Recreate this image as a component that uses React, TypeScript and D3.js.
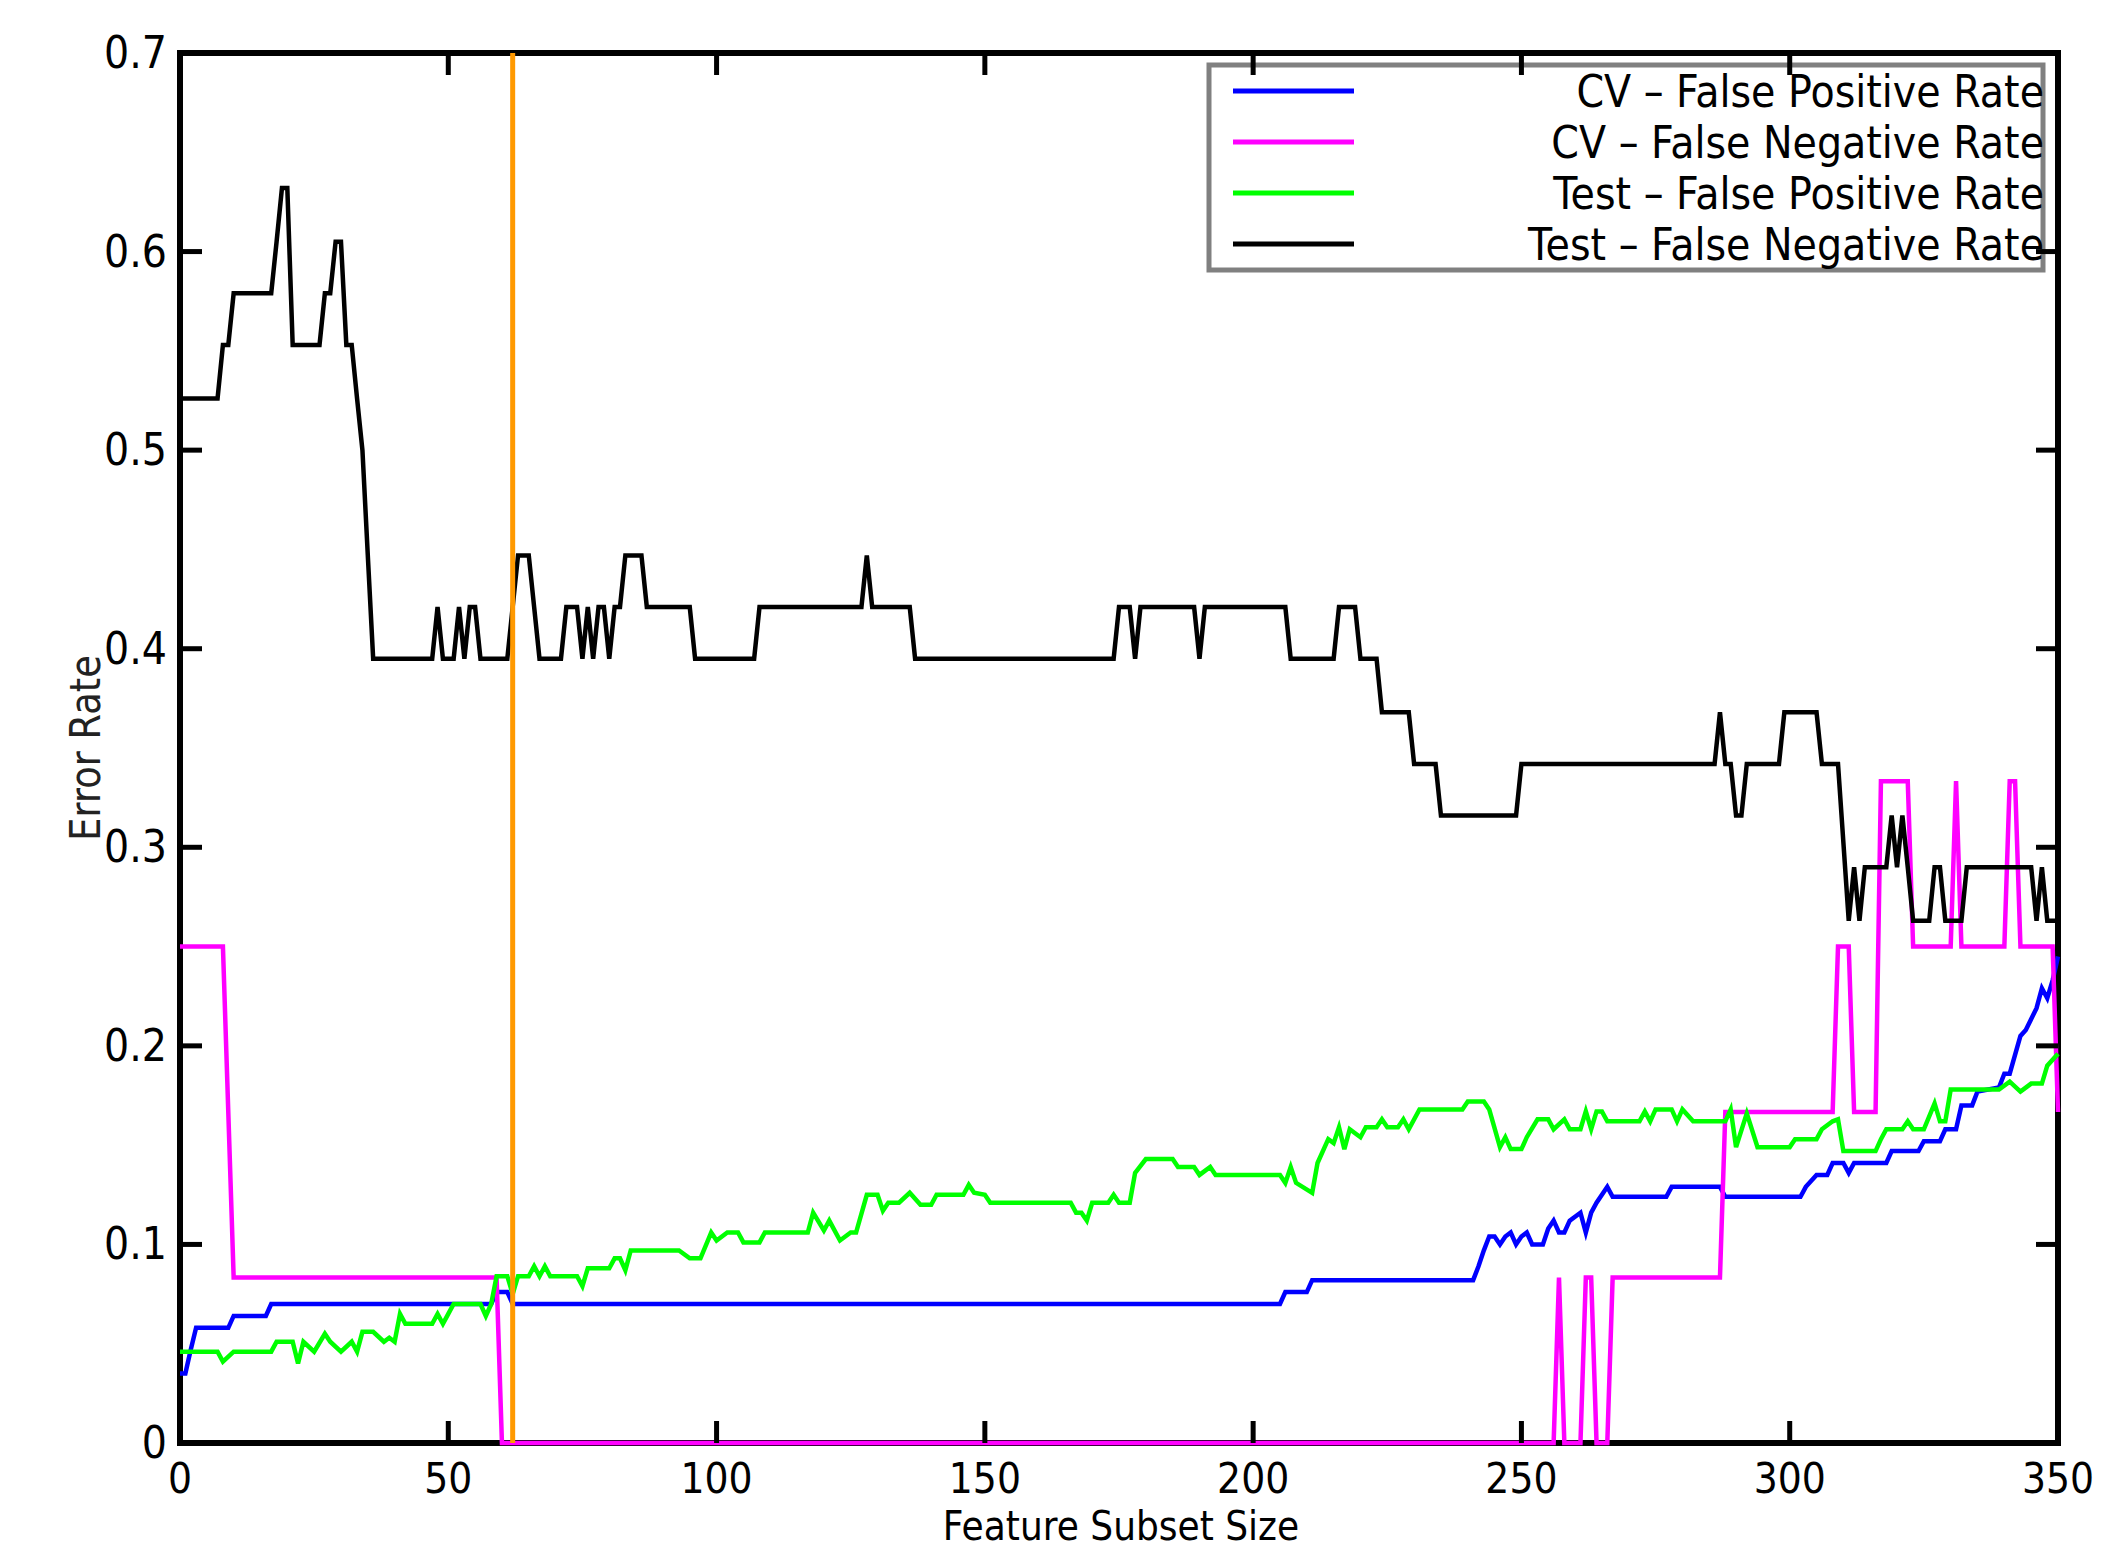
import React from 'react';
import * as d3 from 'd3';

type Pt = [number, number];

const xTicks = [0, 50, 100, 150, 200, 250, 300, 350];
const xTickLabels = ['0', '50', '100', '150', '200', '250', '300', '350'];
const yTicks = [0, 0.1, 0.2, 0.3, 0.4, 0.5, 0.6, 0.7];
const yTickLabels = ['0', '0.1', '0.2', '0.3', '0.4', '0.5', '0.6', '0.7'];

const seriesNames = [
  'CV \u2013 False Positive Rate',
  'CV \u2013 False Negative Rate',
  'Test \u2013 False Positive Rate',
  'Test \u2013 False Negative Rate',
];
const seriesColors = ['#0000ff', '#ff00ff', '#00ff00', '#000000'];
const selectedSubsetSize = 62;

const cvFalsePositive: Pt[] = [
  [0, .035], [1, .035], [2, .047], [3, .058], [9, .058], [10, .064], [16, .064], [17, .070],
  [58, .070], [59, .076], [61, .076], [62, .070], [205, .070], [206, .076], [210, .076], [211, .082],
  [241, .082], [242, .089], [243, .097], [244, .104], [245, .104], [246, .100], [247, .104], [248, .106],
  [249, .100], [250, .104], [251, .106], [252, .100], [254, .100], [255, .108], [256, .112], [257, .106],
  [258, .106], [259, .112], [261, .116], [262, .106], [263, .116], [264, .121], [266, .129], [267, .124],
  [277, .124], [278, .129], [287, .129], [288, .124], [302, .124], [303, .129], [305, .135], [307, .135],
  [308, .141], [310, .141], [311, .136], [312, .141], [318, .141], [319, .147], [324, .147], [325, .152],
  [328, .152], [329, .158], [331, .158], [332, .170], [334, .170], [335, .177], [339, .179], [340, .186],
  [341, .186], [343, .205], [344, .208], [346, .219], [347, .229], [348, .224], [349, .233], [350, .245],
];

const cvFalseNegative: Pt[] = [
  [0, .25], [8, .25], [10, .0833], [59, .0833], [60, 0], [256, 0], [257, .0833], [258, 0],
  [261, 0], [262, .0833], [263, .0833], [264, 0], [266, 0], [267, .0833], [287, .0833], [288, .1667],
  [308, .1667], [309, .25], [311, .25], [312, .1667], [316, .1667], [317, .3333], [322, .3333], [323, .25],
  [330, .25], [331, .3333], [332, .25], [340, .25], [341, .3333], [342, .3333], [343, .25], [349, .25],
  [350, .1667],
];

const testFalsePositive: Pt[] = [
  [0, .046], [7, .046], [8, .041], [10, .046], [17, .046], [18, .051], [21, .051], [22, .040],
  [23, .051], [25, .046], [27, .055], [28, .051], [30, .046], [32, .051], [33, .046], [34, .056],
  [36, .056], [38, .051], [39, .053], [40, .051], [41, .065], [42, .060], [47, .060], [48, .065],
  [49, .060], [50, .065], [51, .070], [56, .070], [57, .064], [58, .070], [59, .084], [61, .084],
  [62, .075], [63, .084], [65, .084], [66, .089], [67, .084], [68, .089], [69, .084], [74, .084],
  [75, .079], [76, .088], [80, .088], [81, .093], [82, .093], [83, .087], [84, .097], [93, .097],
  [95, .093], [97, .093], [99, .106], [100, .102], [102, .106], [104, .106], [105, .101], [108, .101],
  [109, .106], [117, .106], [118, .116], [120, .107], [121, .112], [123, .102], [125, .106], [126, .106],
  [128, .125], [130, .125], [131, .117], [132, .121], [134, .121], [136, .126], [138, .120], [140, .120],
  [141, .125], [146, .125], [147, .130], [148, .126], [150, .125], [151, .121], [166, .121], [167, .116],
  [168, .116], [169, .112], [170, .121], [173, .121], [174, .125], [175, .121], [177, .121], [178, .136],
  [180, .143], [185, .143], [186, .139], [189, .139], [190, .135], [192, .139], [193, .135], [205, .135],
  [206, .131], [207, .139], [208, .131], [211, .126], [212, .141], [214, .153], [215, .151], [216, .159],
  [217, .148], [218, .158], [220, .154], [221, .159], [223, .159], [224, .163], [225, .159], [227, .159],
  [228, .163], [229, .158], [231, .168], [239, .168], [240, .172], [243, .172], [244, .168], [246, .149],
  [247, .154], [248, .148], [250, .148], [251, .154], [253, .163], [255, .163], [256, .158], [258, .163],
  [259, .158], [261, .158], [262, .167], [263, .158], [264, .167], [265, .167], [266, .162], [272, .162],
  [273, .167], [274, .162], [275, .168], [278, .168], [279, .162], [280, .168], [282, .162], [288, .162],
  [289, .168], [290, .149], [292, .166], [294, .149], [300, .149], [301, .153], [305, .153], [306, .158],
  [308, .162], [309, .163], [310, .147], [316, .147], [317, .153], [318, .158], [321, .158], [322, .162],
  [323, .158], [325, .158], [327, .171], [328, .162], [329, .162], [330, .178], [339, .178], [341, .182],
  [343, .177], [345, .181], [347, .181], [348, .190], [350, .196],
];

const testFalseNegative: Pt[] = [
  [0, .526], [7, .526], [8, .553], [9, .553], [10, .579], [17, .579], [18, .605], [19, .632],
  [20, .632], [21, .553], [26, .553], [27, .579], [28, .579], [29, .605], [30, .605], [31, .553],
  [32, .553], [33, .526], [34, .5], [35, .447], [36, .395], [47, .395], [48, .421], [49, .395],
  [51, .395], [52, .421], [53, .395], [54, .421], [55, .421], [56, .395], [61, .395], [62, .421],
  [63, .447], [65, .447], [66, .421], [67, .395], [71, .395], [72, .421], [74, .421], [75, .395],
  [76, .421], [77, .395], [78, .421], [79, .421], [80, .395], [81, .421], [82, .421], [83, .447],
  [86, .447], [87, .421], [95, .421], [96, .395], [107, .395], [108, .421], [127, .421], [128, .447],
  [129, .421], [136, .421], [137, .395], [174, .395], [175, .421], [177, .421], [178, .395], [179, .421],
  [189, .421], [190, .395], [191, .421], [206, .421], [207, .395], [215, .395], [216, .421], [219, .421],
  [220, .395], [223, .395], [224, .368], [229, .368], [230, .342], [234, .342], [235, .316], [249, .316],
  [250, .342], [286, .342], [287, .368], [288, .342], [289, .342], [290, .316], [291, .316], [292, .342],
  [298, .342], [299, .368], [305, .368], [306, .342], [309, .342], [311, .263], [312, .290], [313, .263],
  [314, .290], [318, .290], [319, .316], [320, .290], [321, .316], [322, .290], [323, .263], [326, .263],
  [327, .290], [328, .290], [329, .263], [332, .263], [333, .290], [345, .290], [346, .263], [347, .290],
  [348, .263], [350, .263],
];

const seriesData = [cvFalsePositive, cvFalseNegative, testFalsePositive, testFalseNegative];

const FONT = 'DejaVu Sans';
const SX = 0.9;

export default function App() {
  const W = 2120, H = 1550;
  const left = 180, right = 2058, top = 53, bottom = 1443;
  const x = d3.scaleLinear().domain([0, 350]).range([left, right]);
  const y = d3.scaleLinear().domain([0, 0.7]).range([bottom, top]);
  const line = d3.line<Pt>().x(d => x(d[0])).y(d => y(d[1]));
  const tickLen = 22;

  const legendX0 = 1209, legendX1 = 2043, legendY0 = 65, legendY1 = 270;
  const rowY = (i: number) => 91 + i * 51;

  return (
    <svg width={W} height={H} style={{ position: 'absolute', left: 0, top: 0, background: '#fff' }}>
      <rect x={0} y={0} width={W} height={H} fill="#fff" />
      {/* frame */}
      <rect x={left} y={top} width={right - left} height={bottom - top} fill="none" stroke="#000" strokeWidth={6} />
      {/* data lines */}
      {seriesData.map((d, i) => (
        <path key={i} d={line(d) || ''} fill="none" stroke={seriesColors[i]} strokeWidth={4.5} strokeLinejoin="miter" strokeMiterlimit={4} />
      ))}
      {/* selected subset size */}
      <line x1={x(selectedSubsetSize)} x2={x(selectedSubsetSize)} y1={top} y2={bottom} stroke="#ff9900" strokeWidth={5} />
      {/* legend */}
      <rect x={legendX0} y={legendY0} width={legendX1 - legendX0} height={legendY1 - legendY0} fill="#fff" stroke="#808080" strokeWidth={5} />
      {seriesNames.map((name, i) => (
        <g key={name}>
          <line x1={1233} x2={1354} y1={rowY(i)} y2={rowY(i)} stroke={seriesColors[i]} strokeWidth={5} />
          <text transform={`translate(2044,${rowY(i) + 16}) scale(${SX},1)`} textAnchor="end" fontFamily={FONT} fontSize={44} fill="#000">{name}</text>
        </g>
      ))}
      {/* ticks */}
      {xTicks.map(t => (
        <g key={'xt' + t}>
          <line x1={x(t)} x2={x(t)} y1={bottom} y2={bottom - tickLen} stroke="#000" strokeWidth={5} />
          <line x1={x(t)} x2={x(t)} y1={top} y2={top + tickLen} stroke="#000" strokeWidth={5} />
        </g>
      ))}
      {yTicks.map(t => (
        <g key={'yt' + t}>
          <line x1={left} x2={left + tickLen} y1={y(t)} y2={y(t)} stroke="#000" strokeWidth={5} />
          <line x1={right} x2={right - tickLen} y1={y(t)} y2={y(t)} stroke="#000" strokeWidth={5} />
        </g>
      ))}
      {/* tick labels */}
      {xTicks.map((t, i) => (
        <text key={'xl' + t} transform={`translate(${x(t)},1493) scale(${SX},1)`} textAnchor="middle" fontFamily={FONT} fontSize={42} fill="#000">{xTickLabels[i]}</text>
      ))}
      {yTicks.map((t, i) => (
        <text key={'yl' + t} transform={`translate(167,${y(t) + 15}) scale(${SX},1)`} textAnchor="end" fontFamily={FONT} fontSize={44} fill="#000">{yTickLabels[i]}</text>
      ))}
      {/* axis titles */}
      <text transform={`translate(1121,1540) scale(${SX},1)`} textAnchor="middle" fontFamily={FONT} fontSize={40} fill="#000">Feature Subset Size</text>
      <text transform={`translate(100,748) rotate(-90) scale(0.875,1)`} textAnchor="middle" fontFamily={FONT} fontSize={42} fill="#222">Error Rate</text>
    </svg>
  );
}
